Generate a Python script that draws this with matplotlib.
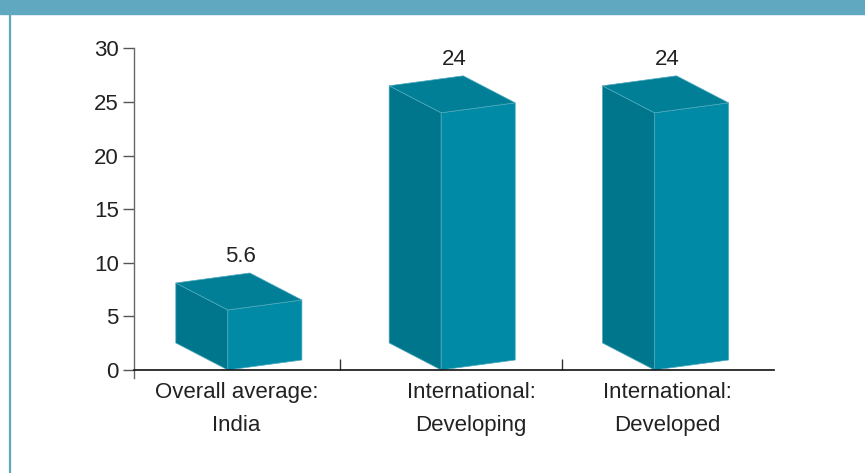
import matplotlib
matplotlib.use("Agg")
import matplotlib.pyplot as plt
from matplotlib.patches import Polygon, Rectangle
from matplotlib.lines import Line2D

categories = ["Overall average:\nIndia", "International:\nDeveloping", "International:\nDeveloped"]
values = [5.6, 24, 24]
value_labels = ["5.6", "24", "24"]
y_ticks = [0, 5, 10, 15, 20, 25, 30]

plt.rcParams['font.family'] = ['Liberation Sans', 'DejaVu Sans']

W, H = 865, 473
fig = plt.figure(figsize=(W / 100, H / 100), dpi=100)
fig.patch.set_facecolor('white')

# header strip and thin rule down the left side
band = '#5fa8c0'
fig.patches.append(Rectangle((0, 1 - 14 / H), 1, 14 / H, transform=fig.transFigure,
                             color=band, zorder=0))
fig.lines.append(Line2D([9.5 / W, 9.5 / W], [0, 1 - 14 / H], transform=fig.transFigure,
                        color=band, lw=1.6))

ax = fig.add_axes([134 / W, (H - 378) / H, 640 / W, (378 - 48.5) / H])
ax.set_facecolor('none')
ax.set_xlim(0, 3)
ax.set_ylim(-0.75, 30)

# box geometry (data units): side face goes up-left, other face up-right
front_off = 0.44
dxl, dyl = -0.244, 2.52
dxr, dyr = 0.347, 0.93
c_left, c_right, c_top = '#00768c', '#008aa5', '#007f96'
edge = '#4fa9bf'
fs = 16

for i, v in enumerate(values):
    x = i + front_off
    left = [(x, 0), (x, v), (x + dxl, v + dyl), (x + dxl, dyl)]
    right = [(x, 0), (x + dxr, dyr), (x + dxr, v + dyr), (x, v)]
    top = [(x, v), (x + dxl, v + dyl), (x + dxl + dxr, v + dyl + dyr), (x + dxr, v + dyr)]
    for pts, col in ((left, c_left), (right, c_right), (top, c_top)):
        ax.add_patch(Polygon(pts, closed=True, facecolor=col, edgecolor=edge,
                             lw=0.5, joinstyle='miter', zorder=3, clip_on=False))
    ax.text(x + 0.06, v + 4.5, value_labels[i], ha='center', va='baseline',
            fontsize=fs, color='#222222', clip_on=False)

# category labels under the axis
label_x = [0.48, 1.58, 2.5]
for lx, cat in zip(label_x, categories):
    first, second = cat.split("\n")
    ax.text(lx, -2.6, first, ha='center', va='baseline', fontsize=fs, color='#222222')
    ax.text(lx, -5.66, second, ha='center', va='baseline', fontsize=fs, color='#222222')

ax.spines['top'].set_visible(False)
ax.spines['right'].set_visible(False)
ax.spines['left'].set_color('#666666')
ax.spines['left'].set_linewidth(1.0)
ax.spines['bottom'].set_position(('data', 0))
ax.spines['bottom'].set_color('#111111')
ax.spines['bottom'].set_linewidth(1.2)
ax.spines['bottom'].set_zorder(4)

ax.set_yticks(y_ticks)
ax.tick_params(axis='y', direction='out', length=8, width=1, color='#555555',
               labelsize=fs, labelcolor='#222222', pad=3)
ax.set_xticks([0.966, 2.006])
ax.set_xticklabels([])
ax.tick_params(axis='x', direction='in', length=8, width=1, color='#333333')

fig.savefig('out.png', dpi=100)
